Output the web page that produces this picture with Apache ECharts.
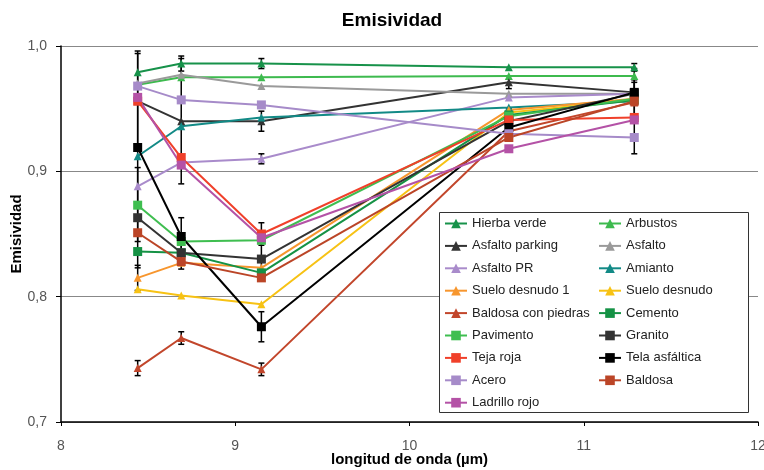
<!DOCTYPE html>
<html>
<head>
<meta charset="utf-8">
<script src="https://cdn.jsdelivr.net/npm/echarts@6/dist/echarts.min.js"></script>
<style>html,body{margin:0;padding:0;background:#fff;}#chart{width:764px;height:470px;}</style>
</head>
<body>
<div id="chart"></div>
<script>
// ---- data ----
const wavelengths = [8.44, 8.69, 9.15, 10.57, 11.29];
const xTicks = [8, 9, 10, 11, 12];
const yTicks = [0.7, 0.8, 0.9, 1.0];

const hierbaVerde    = [0.979, 0.986, 0.986, 0.983, 0.983];
const arbustos       = [0.969, 0.975, 0.975, 0.976, 0.976];
const asfaltoParking = [0.956, 0.940, 0.940, 0.971, 0.963];
const asfalto        = [0.970, 0.977, 0.968, 0.962, 0.962];
const asfaltoPR      = [0.888, 0.907, 0.910, 0.959, 0.962];
const amianto        = [0.912, 0.936, 0.943, 0.951, 0.956];
const sueloDesnudo1  = [0.815, 0.827, 0.823, 0.949, 0.958];
const sueloDesnudo   = [0.806, 0.801, 0.794, 0.947, 0.957];
const baldosaPiedras = [0.743, 0.767, 0.742, 0.932, 0.955];
const cemento        = [0.836, 0.835, 0.819, 0.945, 0.957];
const pavimento      = [0.873, 0.844, 0.845, 0.944, 0.958];
const granito        = [0.863, 0.835, 0.830, 0.940, 0.962];
const tejaRoja       = [0.956, 0.911, 0.850, 0.941, 0.943];
const telaAsfaltica  = [0.919, 0.848, 0.776, 0.935, 0.963];
const acero          = [0.968, 0.957, 0.953, 0.930, 0.927];
const baldosa        = [0.851, 0.828, 0.815, 0.927, 0.956];
const ladrilloRojo   = [0.959, 0.905, 0.847, 0.918, 0.941];

// error half-widths (only series with visible error bars)
const errHierbaVerde    = [0, 0.006, 0.004, 0, 0.003];
const errAsfaltoParking = [0.04, 0.05, 0.008, 0.005, 0.01];
const errAsfaltoPR      = [0, 0, 0.004, 0, 0];
const errTelaAsfaltica  = [0.075, 0.015, 0.012, 0.008, 0];
const errGranito        = [0.04, 0.008, 0.015, 0.01, 0.02];
const errTejaRoja       = [0, 0, 0.009, 0, 0];
const errSueloDesnudo1  = [0.01, 0, 0, 0, 0];
const errBaldosaPiedras = [0.006, 0.005, 0.005, 0, 0];
const errBaldosa        = [0, 0.006, 0, 0, 0.015];
const errAcero          = [0, 0, 0, 0, 0.013];

const seriesDefs = [
  ['Hierba verde', hierbaVerde, '#17924a', 'triangle'],
  ['Arbustos', arbustos, '#3dba4e', 'triangle'],
  ['Asfalto parking', asfaltoParking, '#333333', 'triangle'],
  ['Asfalto', asfalto, '#9a9a9a', 'triangle'],
  ['Asfalto PR', asfaltoPR, '#a98bcb', 'triangle'],
  ['Amianto', amianto, '#128a86', 'triangle'],
  ['Suelo desnudo 1', sueloDesnudo1, '#f7962e', 'triangle'],
  ['Suelo desnudo', sueloDesnudo, '#f7c214', 'triangle'],
  ['Baldosa con piedras', baldosaPiedras, '#c2462b', 'triangle'],
  ['Cemento', cemento, '#159245', 'rect'],
  ['Pavimento', pavimento, '#3fbe50', 'rect'],
  ['Granito', granito, '#333333', 'rect'],
  ['Teja roja', tejaRoja, '#f0402a', 'rect'],
  ['Tela asfáltica', telaAsfaltica, '#000000', 'rect'],
  ['Acero', acero, '#a68bc9', 'rect'],
  ['Baldosa', baldosa, '#bb4527', 'rect'],
  ['Ladrillo rojo', ladrilloRojo, '#b452a6', 'rect']
];
const errDefs = [
  [hierbaVerde, errHierbaVerde], [asfaltoParking, errAsfaltoParking], [asfaltoPR, errAsfaltoPR],
  [telaAsfaltica, errTelaAsfaltica], [granito, errGranito], [tejaRoja, errTejaRoja],
  [sueloDesnudo1, errSueloDesnudo1], [baldosaPiedras, errBaldosaPiedras], [baldosa, errBaldosa],
  [acero, errAcero]
];

const errData = [];
errDefs.forEach(([vals, errs]) => {
  vals.forEach((v, i) => { if (errs[i] > 0) errData.push([wavelengths[i], v - errs[i], v + errs[i]]); });
});

const series = [{
  type: 'custom',
  name: 'err',
  z: 3,
  silent: true,
  data: errData,
  encode: { x: 0, y: [1, 2] },
  renderItem: function (params, api) {
    const x = api.value(0);
    const lo = api.coord([x, api.value(1)]);
    const hi = api.coord([x, api.value(2)]);
    const w = 3;
    const st = { stroke: '#000', lineWidth: 1.5 };
    return { type: 'group', children: [
      { type: 'line', shape: { x1: lo[0], y1: lo[1], x2: hi[0], y2: hi[1] }, style: st },
      { type: 'line', shape: { x1: lo[0] - w, y1: lo[1], x2: lo[0] + w, y2: lo[1] }, style: st },
      { type: 'line', shape: { x1: hi[0] - w, y1: hi[1], x2: hi[0] + w, y2: hi[1] }, style: st }
    ]};
  }
}];
seriesDefs.forEach(([name, vals, color, sym]) => {
  series.push({
    type: 'line', name: name,
    data: vals.map((v, i) => [wavelengths[i], v]),
    symbol: sym, symbolSize: sym === 'rect' ? 9 : 8,
    showSymbol: true,
    lineStyle: { color: color, width: 2 },
    itemStyle: { color: color },
    emphasis: { disabled: true },
    animation: false
  });
});

const names = seriesDefs.map(d => d[0]);
const leftCol = names.filter((n, i) => i % 2 === 0);
const rightCol = names.filter((n, i) => i % 2 === 1);
const legendCommon = {
  orient: 'vertical', itemWidth: 22, itemHeight: 12, itemGap: 9.4, padding: 0, z: 10,
  textStyle: { fontFamily: 'Liberation Sans, Arial, sans-serif', fontSize: 13, color: '#222' },
  selectedMode: false
};

const chart = echarts.init(document.getElementById('chart'), null, { renderer: 'canvas' });
chart.setOption({
  animation: false,
  backgroundColor: '#fff',
  title: {
    text: 'Emisividad', left: 387, top: 6, textAlign: 'center',
    textStyle: { fontFamily: 'Liberation Sans, Arial, sans-serif', fontSize: 19, fontWeight: 'bold', color: '#000' }
  },
  grid: { left: 61, right: 6, top: 46, bottom: 48, containLabel: false, outerBoundsMode: 'none' },
  xAxis: {
    type: 'value', min: xTicks[0], max: xTicks[xTicks.length - 1], interval: 1,
    name: 'longitud de onda (µm)', nameLocation: 'middle', nameGap: 30, nameMoveOverlap: false,
    nameTextStyle: { fontFamily: 'Liberation Sans, Arial, sans-serif', fontSize: 15, fontWeight: 'bold', color: '#000' },
    axisLine: { lineStyle: { color: '#000', width: 1.5 } },
    axisTick: { show: true, length: 4, lineStyle: { color: '#000' } },
    axisLabel: { fontFamily: 'Liberation Sans, Arial, sans-serif', fontSize: 14, color: '#555', margin: 17 },
    splitLine: { show: false }
  },
  yAxis: {
    type: 'value', min: yTicks[0], max: yTicks[yTicks.length - 1], interval: 0.1,
    name: 'Emisividad', nameLocation: 'middle', nameGap: 37, nameMoveOverlap: false,
    nameTextStyle: { fontFamily: 'Liberation Sans, Arial, sans-serif', fontSize: 15, fontWeight: 'bold', color: '#000' },
    axisLine: { show: true, lineStyle: { color: '#000', width: 1.5 } },
    axisTick: { show: true, length: 5, lineStyle: { color: '#000' } },
    axisLabel: { fontFamily: 'Liberation Sans, Arial, sans-serif', fontSize: 14, color: '#555', margin: 14,
      formatter: v => v.toFixed(1).replace('.', ',') },
    splitLine: { show: true, lineStyle: { color: '#888', width: 1.2 } }
  },
  legend: [
    Object.assign({ data: leftCol, left: 444, top: 217 }, legendCommon),
    Object.assign({ data: rightCol, left: 598, top: 217 }, legendCommon)
  ],
  graphic: [{
    type: 'rect', left: 439, top: 212, z: 5,
    shape: { width: 309, height: 200 },
    style: { fill: '#fff', stroke: '#333', lineWidth: 1 }
  }],
  series: series
});
</script>
</body>
</html>
